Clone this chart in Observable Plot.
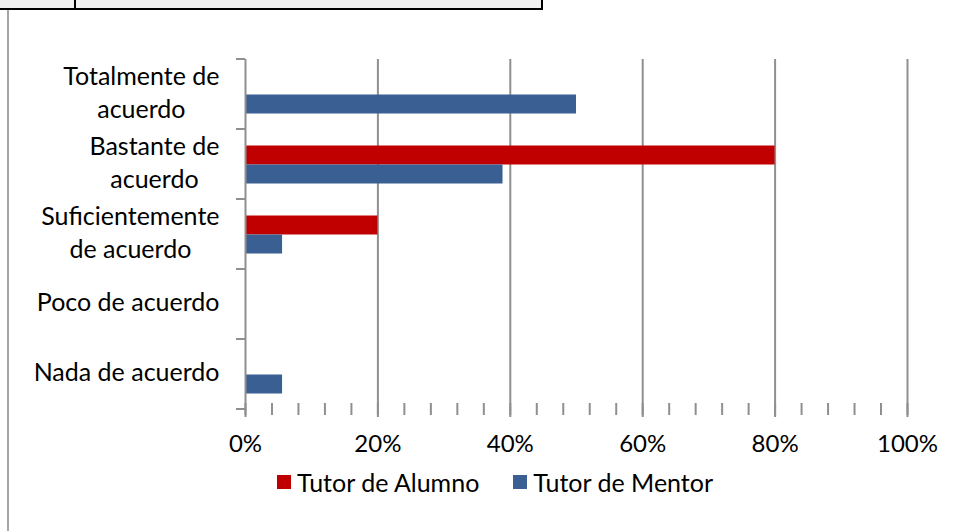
<!DOCTYPE html>
<html><head><meta charset="utf-8">
<script src="https://cdn.jsdelivr.net/npm/d3@7"></script>
<script src="https://cdn.jsdelivr.net/npm/@observablehq/plot@0.6"></script>
<style>
html,body{margin:0;padding:0;background:#fff;}
#wrap{position:relative;width:964px;height:531px;overflow:hidden;font-family:Lato,"Open Sans",sans-serif;}
#chart{position:absolute;left:0;top:0;}
#topbar{position:absolute;left:0;top:0;width:541px;height:8px;background:#f0f0f0;border-bottom:2px solid #000;border-right:2px solid #000;}
#topdiv{position:absolute;left:74px;top:0;width:2px;height:10px;background:#000;}
#leftline{position:absolute;left:7px;top:10px;width:2px;height:521px;background:#a6a6a6;}
#legend{position:absolute;left:277px;top:465px;height:34px;display:flex;align-items:center;font-size:25px;color:#000;}
#legend .item{display:flex;align-items:center;margin-right:34px;}
#legend .sw{width:14px;height:14px;margin-right:6px;}
</style>
</head><body>
<div id="wrap">
  <div id="chart"></div>
  <div id="topbar"></div><div id="topdiv"></div><div id="leftline"></div>
  <div id="legend"></div>
</div>
<script>
const categories = ["Totalmente de acuerdo","Bastante de acuerdo","Suficientemente de acuerdo","Poco de acuerdo","Nada de acuerdo"];
const categoryLabels = ["Totalmente de\nacuerdo","Bastante de\nacuerdo","Suficientemente\nde acuerdo","Poco de acuerdo","Nada de acuerdo"];
const series = ["Tutor de Alumno","Tutor de Mentor"];
const alumnoValues = [0, 0.80, 0.20, 0, 0];
const mentorValues = [0.50, 0.389, 0.056, 0, 0.056];
const xTicks = [0, 0.2, 0.4, 0.6, 0.8, 1];
const xTickLabels = ["0%","20%","40%","60%","80%","100%"];
const minorTicks = [0,0.04,0.08,0.12,0.16,0.2,0.24,0.28,0.32,0.36,0.4,0.44,0.48,0.52,0.56,0.6,0.64,0.68,0.72,0.76,0.8,0.84,0.88,0.92,0.96,1];
const colors = ["#C00000","#3A6093"];

const data = [];
categories.forEach((c, i) => {
  data.push({category: c, series: series[0], value: alumnoValues[i]});
  data.push({category: c, series: series[1], value: mentorValues[i]});
});

const H = 460;
const gridColor = "#8f8f8f";

// ticks at the boundaries of each category band
const bandTicks = (index, scales, values, dims) => {
  const g = d3.create("svg:g");
  const x0 = scales.x(0);
  const [ya, yb] = scales.y.range();
  for (const yy of [ya, yb]) {
    g.append("line").attr("x1", x0 - 9).attr("x2", x0).attr("y1", yy).attr("y2", yy)
      .attr("stroke", gridColor).attr("stroke-width", 2);
  }
  return g.node();
};

const chart = Plot.plot({
  width: 964, height: H,
  marginLeft: 245, marginRight: 57, marginTop: 57.5, marginBottom: H - 410,
  style: {fontFamily: "Lato, 'Open Sans', sans-serif", fontSize: "24px", color: "#000", background: "transparent"},
  x: {domain: [0, 1]},
  y: {domain: series, paddingInner: 0, paddingOuter: 0.765, axis: null},
  fy: {domain: categories, padding: 0},
  color: {domain: series, range: colors},
  marks: [
    Plot.ruleX(xTicks.slice(1), {stroke: gridColor, strokeWidth: 2}),
    Plot.barX(data, {fy: "category", y: "series", x: "value", fill: "series"}),
    Plot.ruleX([0], {stroke: gridColor, strokeWidth: 2}),
    bandTicks,
    Plot.axisX({ticks: minorTicks, tickSize: 12, dy: -6, tickFormat: () => "", stroke: gridColor, strokeWidth: 2, strokeOpacity: 1, label: null}),
    Plot.axisX({ticks: xTicks, tickSize: 8, tickPadding: 17, tickFormat: d => xTickLabels[xTicks.indexOf(d)], stroke: gridColor, strokeWidth: 2, strokeOpacity: 1, fontSize: 24, label: null}),
    Plot.axisFy({anchor: "left", tickSize: 0, tickPadding: 26, dy: -4, tickFormat: d => categoryLabels[categories.indexOf(d)], fontSize: 25, lineHeight: 1.33, label: null})
  ]
});
document.getElementById("chart").appendChild(chart);

// center the lines of each wrapped label within its right-aligned block
chart.querySelectorAll('g[aria-label="fy-axis tick label"] text').forEach(t => {
  const spans = t.querySelectorAll("tspan");
  if (spans.length > 1) {
    const w = Math.max(...Array.from(spans, s => s.getComputedTextLength()));
    const x0 = +(t.getAttribute("x") || 0);
    t.setAttribute("text-anchor", "middle");
    spans.forEach(s => s.setAttribute("x", x0 - w / 2));
  }
});

// legend
const legend = document.getElementById("legend");
series.forEach((s, i) => {
  const item = document.createElement("div");
  item.className = "item";
  const sw = document.createElement("div");
  sw.className = "sw";
  sw.style.background = colors[i];
  const lab = document.createElement("span");
  lab.textContent = s;
  item.appendChild(sw); item.appendChild(lab);
  legend.appendChild(item);
});
</script>
</body></html>
